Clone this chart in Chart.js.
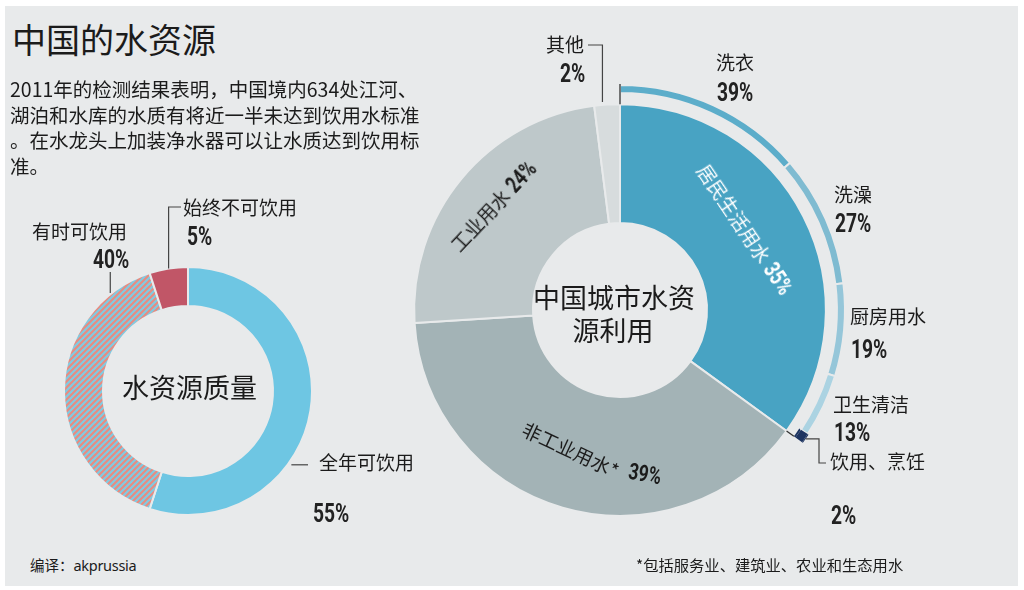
<!DOCTYPE html>
<html><head><meta charset="utf-8">
<script src="https://cdn.jsdelivr.net/npm/chart.js@4.4.1/dist/chart.umd.min.js"></script>
<style>
html,body{margin:0;padding:0;background:#fff;width:1024px;height:590px;overflow:hidden;}
#panel{position:absolute;left:5px;top:6px;width:1013px;height:580px;background:#e8eaeb;}
.t{position:absolute;font-family:"Noto Sans CJK SC","Noto Sans",sans-serif;color:#1b1b1b;white-space:nowrap;line-height:1;z-index:5;}
.p{position:absolute;font-family:"Roboto","Liberation Sans",sans-serif;font-weight:700;color:#222;white-space:nowrap;line-height:1;font-size:26px;transform:scaleX(0.74);transform-origin:0 50%;z-index:5;}
.rot{position:absolute;white-space:nowrap;line-height:1;font-family:"Noto Sans CJK SC",sans-serif;font-size:19px;z-index:5;}
.rot b{font-family:"Roboto","Liberation Sans",sans-serif;font-weight:700;font-size:23px;display:inline-block;transform:scaleX(0.76);margin:0 -4px;}
canvas{position:absolute;z-index:2;}
</style></head>
<body>
<div id="panel"></div>
<canvas id="c1" width="420" height="350" style="left:0px;top:190px;width:420px;height:350px"></canvas>
<canvas id="c2" width="520" height="520" style="left:380px;top:30px;width:520px;height:520px"></canvas>
<div id="labels"></div>
<script>
// ---- data ----
const qualityLabels = ['全年可饮用', '有时可饮用', '始终不可饮用'];
const qualityValues = [55, 40, 5];
const useLabels = ['居民生活用水', '非工业用水*', '工业用水', '其他'];
const useValues = [35, 39, 24, 2];
const domesticLabels = ['洗衣', '洗澡', '厨房用水', '卫生清洁', '饮用、烹饪'];
const domesticValues = [39, 27, 19, 13, 2];

const BG = '#e8eaeb';
const box = document.getElementById('labels');
function lab(html, x, cy, size, opts) {
  opts = opts || {};
  const d = document.createElement('div');
  d.className = opts.cls || 't';
  d.innerHTML = html;
  d.style.fontSize = size + 'px';
  const k = d.className === 'p' ? 0.47 : 0.556;
  d.style.top = (cy - k * size) + 'px';
  if (opts.right) { d.style.right = (1024 - x) + 'px'; if (d.className === 'p') d.style.transformOrigin = '100% 50%'; }
  else d.style.left = x + 'px';
  box.appendChild(d);
}
function rot(html, cx, cy, deg, color) {
  const d = document.createElement('div');
  d.className = 'rot';
  d.innerHTML = html;
  d.style.left = cx + 'px'; d.style.top = cy + 'px';
  d.style.color = color;
  d.style.transform = 'translate(-50%,-50%) rotate(' + deg + 'deg)';
  box.appendChild(d);
}
// headings & text
lab('中国的水资源', 12, 41, 34);
['2011年的检测结果表明，中国境内634处江河、', '湖泊和水库的水质有将近一半未达到饮用水标准', '。在水龙头上加装净水器可以让水质达到饮用标', '准。']
  .forEach((s, i) => lab(s, 10, 90 + i * 25.5, 19.5));
lab('编译：<span style="font-family:\'Noto Sans\',sans-serif;letter-spacing:-0.3px">akprussia</span>', 30, 566, 14.5);
lab('*包括服务业、建筑业、农业和生态用水', 636, 566, 15.3);

// left labels
lab(qualityLabels[2], 183, 208, 19);
lab(qualityValues[2] + '%', 187, 235, 26, {cls: 'p'});
lab(qualityLabels[1], 32, 232, 19);
lab(qualityValues[1] + '%', 93, 258, 26, {cls: 'p'});
lab(qualityLabels[0], 319, 463, 19);
lab(qualityValues[0] + '%', 313, 512, 26, {cls: 'p'});
lab('水资源质量', 122, 388, 27);

// right labels
lab(useLabels[3], 584, 45, 19, {right: true});
lab(useValues[3] + '%', 585, 72, 26, {cls: 'p', right: true});
const domPos = [[716, 63, 91], [834, 195, 222], [850, 317, 348], [833, 405, 431], [830, 462, 514]];
domesticLabels.forEach((n, i) => {
  lab(n, domPos[i][0], domPos[i][1], 19);
  lab(domesticValues[i] + '%', domPos[i][0] + 1, domPos[i][2], 26, {cls: 'p'});
});
const ct = document.createElement('div');
ct.className = 't';
ct.style.cssText = 'left:533px;top:280px;width:160px;text-align:center;font-size:27px;line-height:33px;';
ct.innerHTML = '中国城市水资<br>源利用';
box.appendChild(ct);

rot(useLabels[0] + ' <b>' + useValues[0] + '%</b>', 745, 230, 56, '#ffffff');
rot(useLabels[2] + ' <b>' + useValues[2] + '%</b>', 494, 206, -47, '#1b1b1b');
rot(useLabels[1], 571, 449, 25, '#1b1b1b');
rot('<b>' + useValues[1] + '%</b>', 645, 474, 10, '#1b1b1b');

// ---- leader plugin ----
function leaders(lines, off) {
  return {
    id: 'leaders',
    afterDatasetsDraw(chart) {
      const ctx = chart.ctx;
      ctx.save();
      lines.forEach(l => {
        const p = chart.getDatasetMeta(l.ds).data[l.idx].getProps(['x', 'y', 'startAngle', 'endAngle', 'outerRadius', 'innerRadius'], true);
        const a = p.startAngle + (p.endAngle - p.startAngle) * l.frac;
        const r0 = p.outerRadius + (l.dr || 0);
        let x = p.x + Math.cos(a) * r0, y = p.y + Math.sin(a) * r0;
        ctx.strokeStyle = l.color || '#444';
        ctx.lineWidth = l.lw || 1.2;
        ctx.beginPath(); ctx.moveTo(x, y);
        l.path.forEach(s => {
          if (s[0] === 'v') y = s[1] - off.y;
          else if (s[0] === 'h') x = s[1] - off.x;
          else if (s[0] === 'rr') {
            const r = chart.getDatasetMeta(s[1]).data[0].outerRadius;
            x = p.x + Math.cos(a) * r; y = p.y + Math.sin(a) * r;
          }
          ctx.lineTo(x, y);
        });
        ctx.stroke();
      });
      ctx.restore();
    }
  };
}

// hatch pattern
function hatch() {
  const c = document.createElement('canvas'); c.width = 6; c.height = 6;
  const g = c.getContext('2d');
  g.fillStyle = '#80cbe2'; g.fillRect(0, 0, 6, 6);
  g.strokeStyle = '#e88b80'; g.lineWidth = 2.1;
  [0, 6, 12].forEach(c0 => {
    g.beginPath(); g.moveTo(c0 + 2, -2); g.lineTo(c0 - 8, 8); g.stroke();
  });
  return g.createPattern(c, 'repeat');
}

const base = {
  responsive: false, maintainAspectRatio: false, animation: false, events: [],
  plugins: {legend: {display: false}, tooltip: {enabled: false}}
};

// left: chart area 250x250 at page (63,266); canvas at (0,190) 420x350
new Chart(document.getElementById('c1'), {
  type: 'doughnut',
  data: {
    labels: qualityLabels,
    datasets: [{
      data: qualityValues,
      backgroundColor: ['#6ec6e3', hatch(), '#c15667'],
      borderColor: BG, borderWidth: 2, hoverOffset: 0
    }]
  },
  options: Object.assign({}, base, {cutout: 85, layout: {padding: {left: 63, top: 76, right: 107, bottom: 24}}}),
  plugins: [leaders([
    {ds: 0, idx: 2, frac: 0.5, dr: 0, path: [['v', 207], ['h', 181]]},
    {ds: 0, idx: 1, frac: 0.858, dr: 1, path: [['v', 272]]},
    {ds: 0, idx: 0, frac: 0.634, dr: 3, path: [['h', 308]]}
  ], {x: 0, y: 190})]
});

const share = useValues[0] / 100;
const ringData = domesticValues.map(v => v * share).concat([100 - useValues[0]]);
const T = 'rgba(0,0,0,0)';
const NAVY = '#1d3461';
const navyOnly = ringData.map((v, i) => i === 4 ? NAVY : T);

// right: chart area 452x452 at page (394,84); canvas at (380,30) 520x520
new Chart(document.getElementById('c2'), {
  type: 'doughnut',
  data: {
    labels: domesticLabels.concat(['']),
    datasets: [
      {data: ringData, backgroundColor: navyOnly, borderWidth: 0, weight: 1, hoverOffset: 0},
      {data: ringData, backgroundColor: ['#5cadca', '#7fbbd1', '#95c6d9', '#abd3e2', NAVY, T],
        borderColor: BG, borderWidth: [2, 2, 2, 2, 0, 0], weight: 8, hoverOffset: 0},
      {data: ringData, backgroundColor: navyOnly, borderWidth: 0, weight: 2, hoverOffset: 0},
      {data: ringData, backgroundColor: T, borderWidth: 0, weight: 9, hoverOffset: 0},
      {data: useValues, backgroundColor: ['#48a3c3', '#a3b3b6', '#bec8ca', '#d7dcdd'],
        borderColor: BG, borderWidth: 2, weight: 118, hoverOffset: 0}
    ]
  },
  options: Object.assign({}, base, {cutout: 87, layout: {padding: {left: 14, top: 54, right: 54, bottom: 14}}}),
  plugins: [leaders([
    {ds: 4, idx: 3, frac: 0.33, dr: 3, path: [['v', 45], ['h', 588]]},
    {ds: 4, idx: 0, frac: 0, dr: 0, path: [['rr', 0]], color: '#333', lw: 1.3},
    {ds: 4, idx: 0, frac: 1, dr: 0, path: [['rr', 3]], color: '#333', lw: 1.3},
    {ds: 0, idx: 4, frac: 0.5, dr: 0, path: [['h', 819], ['v', 463], ['h', 826]]}
  ], {x: 380, y: 30})]
});
</script>
</body></html>
